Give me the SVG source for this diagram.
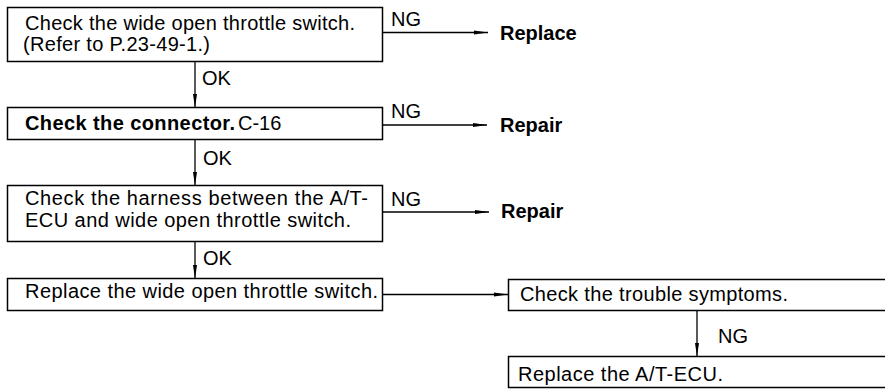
<svg xmlns="http://www.w3.org/2000/svg" width="885" height="389" viewBox="0 0 885 389">
<defs>
<style>
.box{fill:#fff;stroke:#000;stroke-width:1.5}
.t{font-family:"Liberation Sans",Arial,sans-serif;font-size:20px;fill:#000}
.b{font-family:"Liberation Sans",Arial,sans-serif;font-size:20px;font-weight:bold;fill:#000}
.c{fill:none;stroke:#000;stroke-width:1.3}
</style>
<marker id="ah" markerWidth="14" markerHeight="6" refX="14" refY="3" orient="auto" markerUnits="userSpaceOnUse">
<path d="M0,0.9 L14,3 L0,5.1 z" fill="#000"/>
</marker>
</defs>
<rect width="885" height="389" fill="#fff"/>
<g id="connectors">
<line class="c" x1="382" y1="32.5" x2="488" y2="32.5" marker-end="url(#ah)"/>
<line class="c" x1="382" y1="125" x2="487" y2="125" marker-end="url(#ah)"/>
<line class="c" x1="382" y1="212" x2="489" y2="212" marker-end="url(#ah)"/>
<line class="c" x1="382" y1="294.5" x2="508" y2="294.5" marker-end="url(#ah)"/>
<line class="c" x1="195" y1="61.5" x2="195" y2="107.5" marker-end="url(#ah)"/>
<line class="c" x1="195" y1="139.5" x2="195" y2="185.5" marker-end="url(#ah)"/>
<line class="c" x1="195" y1="241.5" x2="195" y2="278.5" marker-end="url(#ah)"/>
<line class="c" x1="697" y1="310.5" x2="697" y2="356.5" marker-end="url(#ah)"/>
<text class="t" x="391" y="26">NG</text>
<text class="t" x="391" y="118">NG</text>
<text class="t" x="391" y="206">NG</text>
<text class="t" x="202" y="85">OK</text>
<text class="t" x="203" y="165">OK</text>
<text class="t" x="203" y="265">OK</text>
<text class="t" x="718" y="343">NG</text>
</g>
<g id="n1">
<rect class="box" x="7.5" y="7.5" width="375" height="54"/>
<text class="t" x="25" y="30" textLength="330" lengthAdjust="spacing">Check the wide open throttle switch.</text>
<text class="t" x="23" y="51" textLength="187" lengthAdjust="spacing">(Refer to P.23-49-1.)</text>
</g>
<g id="r1"><text class="b" x="500" y="40">Replace</text></g>
<g id="n2">
<rect class="box" x="7.5" y="107.5" width="375" height="32"/>
<text class="b" x="25" y="130" textLength="210" lengthAdjust="spacing">Check the connector.</text>
<text class="t" x="238" y="130">C-16</text>
</g>
<g id="r2"><text class="b" x="500" y="132">Repair</text></g>
<g id="n3">
<rect class="box" x="7.5" y="185.5" width="375" height="56"/>
<text class="t" x="25" y="205" textLength="343" lengthAdjust="spacing">Check the harness between the A/T-</text>
<text class="t" x="25" y="227" textLength="326" lengthAdjust="spacing">ECU and wide open throttle switch.</text>
</g>
<g id="r3"><text class="b" x="501" y="218">Repair</text></g>
<g id="n4">
<rect class="box" x="7.5" y="278.5" width="375" height="32"/>
<text class="t" x="25" y="298" textLength="353" lengthAdjust="spacing">Replace the wide open throttle switch.</text>
</g>
<g id="n5">
<rect class="box" x="508.5" y="279.5" width="385" height="31"/>
<text class="t" x="520" y="301" textLength="268" lengthAdjust="spacing">Check the trouble symptoms.</text>
</g>
<g id="n6">
<rect class="box" x="508.5" y="356.5" width="385" height="31"/>
<text class="t" x="518" y="381" textLength="205" lengthAdjust="spacing">Replace the A/T-ECU.</text>
</g>
</svg>
